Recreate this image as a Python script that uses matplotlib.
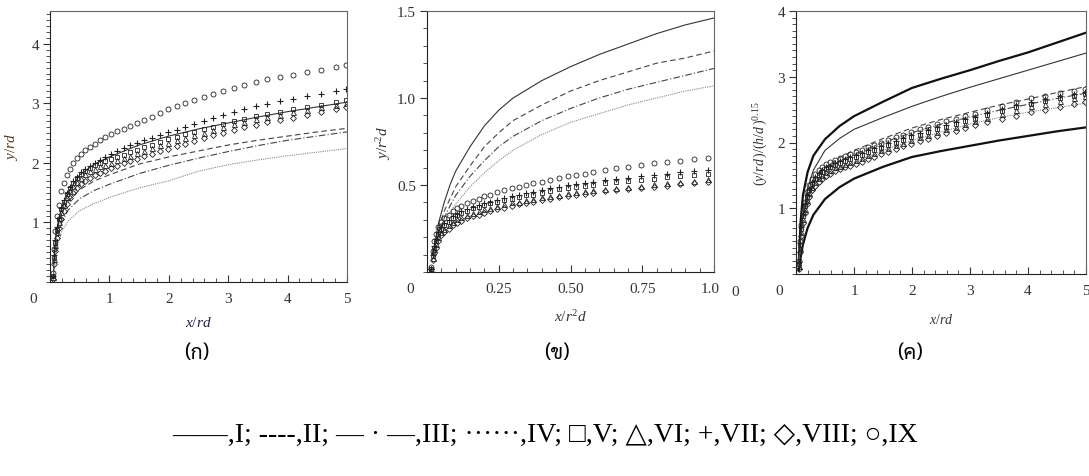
import matplotlib
matplotlib.use("Agg")
import matplotlib.pyplot as plt
from matplotlib.ticker import MultipleLocator, FixedLocator
from matplotlib.transforms import Bbox

plt.rcParams['font.family'] = ['Liberation Serif', 'DejaVu Serif']
plt.rcParams['mathtext.fontset'] = 'custom'
plt.rcParams['mathtext.rm'] = 'Liberation Serif'
plt.rcParams['mathtext.it'] = 'Liberation Serif:italic'

# ---------- panel (ก): y/rd vs x/rd ----------
A_LX = [0.06, 0.1, 0.15, 0.2, 0.3, 0.5, 0.75, 1, 1.5, 2, 2.5, 3, 3.5, 4, 4.5, 5]
A_I = [0.3, 0.8, 1.08, 1.26, 1.5, 1.8, 1.98, 2.1, 2.3, 2.45, 2.57, 2.67, 2.77, 2.86, 2.94, 3.02]
A_II = [0.2, 0.75, 1.0, 1.15, 1.35, 1.55, 1.7, 1.8, 1.98, 2.1, 2.2, 2.3, 2.38, 2.45, 2.52, 2.58]
A_III = [0.15, 0.6, 0.85, 1.0, 1.2, 1.4, 1.54, 1.64, 1.82, 1.96, 2.08, 2.19, 2.29, 2.38, 2.45, 2.52]
A_IV = [0.1, 0.45, 0.7, 0.85, 1.02, 1.2, 1.32, 1.42, 1.58, 1.7, 1.86, 1.97, 2.05, 2.12, 2.18, 2.24]

A_MX = [0.05, 0.07, 0.09, 0.12, 0.15, 0.19, 0.23, 0.28, 0.33, 0.39, 0.45, 0.52, 0.59, 0.67,
        0.75, 0.84, 0.93, 1.03, 1.13, 1.24, 1.35, 1.47, 1.59, 1.72, 1.85, 1.99, 2.13, 2.28,
        2.43, 2.59, 2.75, 2.92, 3.09, 3.27, 3.46, 3.66, 3.87, 4.09, 4.32, 4.56, 4.81, 4.98]
A_V = [0.1, 0.4, 0.65, 0.88, 1.05, 1.22, 1.35, 1.47, 1.57, 1.66, 1.74, 1.81, 1.87, 1.92,
       1.96, 2.0, 2.03, 2.06, 2.1, 2.14, 2.18, 2.22, 2.26, 2.3, 2.35, 2.4, 2.44, 2.48,
       2.52, 2.57, 2.61, 2.66, 2.7, 2.74, 2.78, 2.82, 2.86, 2.9, 2.94, 2.98, 3.02, 3.05]
A_VI = [0.08, 0.38, 0.62, 0.84, 1.0, 1.17, 1.3, 1.42, 1.52, 1.61, 1.68, 1.75, 1.81, 1.86,
        1.9, 1.94, 1.97, 2.0, 2.04, 2.08, 2.12, 2.16, 2.2, 2.25, 2.3, 2.34, 2.38, 2.42,
        2.47, 2.51, 2.56, 2.6, 2.65, 2.69, 2.73, 2.77, 2.81, 2.85, 2.89, 2.93, 2.97, 3.0]
A_VII = [0.1, 0.45, 0.7, 0.92, 1.08, 1.25, 1.38, 1.5, 1.6, 1.7, 1.77, 1.84, 1.9, 1.95,
         2.0, 2.05, 2.1, 2.15, 2.2, 2.25, 2.3, 2.34, 2.38, 2.42, 2.47, 2.52, 2.56, 2.6,
         2.65, 2.7, 2.75, 2.81, 2.86, 2.9, 2.95, 2.99, 3.04, 3.08, 3.12, 3.16, 3.2, 3.24]
A_VIII = [0.05, 0.3, 0.52, 0.74, 0.9, 1.06, 1.19, 1.31, 1.41, 1.5, 1.57, 1.64, 1.7, 1.75,
          1.79, 1.83, 1.87, 1.91, 1.95, 1.99, 2.03, 2.07, 2.11, 2.15, 2.2, 2.24, 2.28, 2.32,
          2.37, 2.41, 2.46, 2.51, 2.56, 2.6, 2.64, 2.68, 2.72, 2.76, 2.8, 2.85, 2.9, 2.94]
A_IX = [0.15, 0.55, 0.85, 1.1, 1.3, 1.52, 1.66, 1.8, 1.9, 2.0, 2.08, 2.15, 2.21, 2.27,
        2.32, 2.38, 2.43, 2.48, 2.53, 2.57, 2.62, 2.67, 2.72, 2.77, 2.83, 2.9, 2.95, 3.0,
        3.06, 3.11, 3.16, 3.21, 3.26, 3.3, 3.35, 3.4, 3.44, 3.48, 3.52, 3.56, 3.61, 3.65]

# ---------- panel (ข): y/r^2d vs x/r^2d ----------
B_LX = [0.02, 0.04, 0.06, 0.08, 0.1, 0.15, 0.2, 0.25, 0.3, 0.4, 0.5, 0.6, 0.7, 0.8, 0.9, 1.0]
B_I = [0.1, 0.28, 0.4, 0.5, 0.58, 0.72, 0.84, 0.93, 1.0, 1.1, 1.18, 1.25, 1.31, 1.37, 1.42, 1.46]
B_II = [0.1, 0.25, 0.35, 0.42, 0.49, 0.61, 0.72, 0.8, 0.87, 0.96, 1.04, 1.1, 1.15, 1.2, 1.23, 1.27]
B_III = [0.1, 0.22, 0.31, 0.38, 0.44, 0.55, 0.64, 0.72, 0.78, 0.87, 0.94, 1.0, 1.05, 1.09, 1.13, 1.17]
B_IV = [0.1, 0.2, 0.28, 0.34, 0.39, 0.49, 0.57, 0.64, 0.7, 0.79, 0.86, 0.91, 0.96, 1.0, 1.04, 1.07]

B_MX = [0.015, 0.02, 0.025, 0.03, 0.04, 0.05, 0.06, 0.075, 0.09, 0.105, 0.12, 0.14, 0.16,
        0.18, 0.2, 0.22, 0.245, 0.27, 0.295, 0.32, 0.345, 0.37, 0.4, 0.43, 0.46, 0.49, 0.52,
        0.55, 0.58, 0.62, 0.66, 0.7, 0.745, 0.79, 0.835, 0.88, 0.93, 0.98]
B_V = [0.02, 0.09, 0.14, 0.18, 0.22, 0.25, 0.27, 0.29, 0.31, 0.325, 0.34, 0.35, 0.365,
       0.375, 0.385, 0.395, 0.405, 0.415, 0.42, 0.43, 0.44, 0.445, 0.455, 0.465, 0.475, 0.48,
       0.49, 0.495, 0.5, 0.51, 0.515, 0.522, 0.53, 0.537, 0.544, 0.55, 0.557, 0.565]
B_VI = [0.02, 0.08, 0.13, 0.16, 0.2, 0.23, 0.25, 0.27, 0.29, 0.305, 0.315, 0.33, 0.34,
        0.35, 0.36, 0.37, 0.38, 0.39, 0.4, 0.405, 0.415, 0.42, 0.43, 0.437, 0.445, 0.452,
        0.46, 0.465, 0.47, 0.477, 0.483, 0.49, 0.497, 0.503, 0.51, 0.517, 0.525, 0.535]
B_VII = [0.02, 0.1, 0.15, 0.19, 0.23, 0.26, 0.28, 0.3, 0.32, 0.335, 0.35, 0.36, 0.375,
         0.385, 0.395, 0.405, 0.415, 0.425, 0.435, 0.445, 0.455, 0.46, 0.47, 0.48, 0.49, 0.5,
         0.505, 0.51, 0.52, 0.527, 0.535, 0.542, 0.55, 0.557, 0.565, 0.572, 0.58, 0.588]
B_VIII = [0.02, 0.07, 0.11, 0.14, 0.18, 0.21, 0.23, 0.25, 0.27, 0.28, 0.295, 0.31, 0.32,
          0.33, 0.34, 0.35, 0.36, 0.37, 0.38, 0.39, 0.395, 0.405, 0.413, 0.42, 0.43, 0.437,
          0.445, 0.45, 0.456, 0.463, 0.47, 0.477, 0.484, 0.49, 0.497, 0.504, 0.512, 0.52]
B_IX = [0.03, 0.12, 0.18, 0.22, 0.26, 0.29, 0.31, 0.33, 0.35, 0.365, 0.38, 0.395, 0.41,
        0.42, 0.435, 0.445, 0.46, 0.47, 0.48, 0.49, 0.5, 0.51, 0.52, 0.53, 0.54, 0.55, 0.56,
        0.565, 0.575, 0.585, 0.595, 0.605, 0.615, 0.625, 0.632, 0.64, 0.648, 0.655]

# ---------- panel (ค): (y/rd)/(h/d)^0.15 vs x/rd ----------
C_LX = [0.05, 0.08, 0.12, 0.2, 0.3, 0.5, 0.75, 1, 1.5, 2, 2.5, 3, 3.5, 4, 4.5, 5]
C_TOP = [0.2, 0.8, 1.2, 1.55, 1.8, 2.05, 2.25, 2.4, 2.62, 2.83, 2.97, 3.1, 3.24, 3.37, 3.52, 3.67]
C_I = [0.15, 0.55, 0.9, 1.3, 1.58, 1.88, 2.06, 2.2, 2.38, 2.55, 2.7, 2.84, 2.97, 3.1, 3.23, 3.36]
C_II = [0.2, 0.6, 0.9, 1.2, 1.4, 1.62, 1.77, 1.88, 2.06, 2.22, 2.35, 2.46, 2.57, 2.66, 2.76, 2.85]
C_III = [0.15, 0.55, 0.85, 1.15, 1.35, 1.56, 1.71, 1.82, 2.0, 2.15, 2.28, 2.39, 2.49, 2.58, 2.67, 2.75]
C_IV = [0.1, 0.45, 0.75, 1.05, 1.25, 1.45, 1.6, 1.7, 1.88, 2.03, 2.16, 2.28, 2.38, 2.46, 2.53, 2.6]
C_BOT = [0.05, 0.25, 0.45, 0.7, 0.9, 1.14, 1.32, 1.45, 1.63, 1.78, 1.87, 1.95, 2.03, 2.1, 2.17, 2.23]

C_MX = [0.05, 0.07, 0.09, 0.12, 0.15, 0.19, 0.23, 0.28, 0.33, 0.39, 0.45, 0.52, 0.59, 0.67,
        0.75, 0.84, 0.93, 1.03, 1.13, 1.24, 1.35, 1.47, 1.59, 1.72, 1.85, 1.99, 2.13, 2.28,
        2.43, 2.59, 2.75, 2.92, 3.09, 3.3, 3.55, 3.8, 4.05, 4.3, 4.55, 4.8, 4.98]
C_V = [0.15, 0.44, 0.68, 0.88, 1.03, 1.17, 1.27, 1.37, 1.44, 1.5, 1.55, 1.59, 1.62, 1.66,
       1.69, 1.72, 1.75, 1.78, 1.81, 1.85, 1.88, 1.92, 1.96, 2.0, 2.04, 2.08, 2.12, 2.16,
       2.2, 2.24, 2.28, 2.32, 2.36, 2.42, 2.48, 2.54, 2.59, 2.63, 2.67, 2.71, 2.74]
C_VI = [0.12, 0.4, 0.64, 0.84, 0.99, 1.13, 1.23, 1.33, 1.4, 1.46, 1.51, 1.55, 1.58, 1.62,
        1.65, 1.68, 1.71, 1.74, 1.77, 1.81, 1.84, 1.88, 1.92, 1.96, 2.0, 2.04, 2.08, 2.12,
        2.16, 2.2, 2.24, 2.28, 2.32, 2.38, 2.44, 2.5, 2.55, 2.59, 2.63, 2.67, 2.7]
C_VII = [0.18, 0.47, 0.71, 0.91, 1.06, 1.2, 1.3, 1.4, 1.47, 1.53, 1.58, 1.62, 1.65, 1.69,
         1.72, 1.75, 1.78, 1.81, 1.84, 1.88, 1.91, 1.95, 1.99, 2.03, 2.07, 2.11, 2.15, 2.19,
         2.23, 2.27, 2.31, 2.35, 2.39, 2.45, 2.51, 2.57, 2.62, 2.66, 2.7, 2.74, 2.77]
C_VIII = [0.08, 0.34, 0.58, 0.78, 0.93, 1.07, 1.17, 1.27, 1.34, 1.4, 1.45, 1.49, 1.52, 1.56,
          1.59, 1.62, 1.65, 1.68, 1.71, 1.75, 1.78, 1.82, 1.86, 1.9, 1.94, 1.98, 2.02, 2.06,
          2.1, 2.14, 2.18, 2.22, 2.26, 2.31, 2.36, 2.41, 2.46, 2.5, 2.54, 2.58, 2.62]
C_IX = [0.2, 0.5, 0.75, 0.95, 1.1, 1.25, 1.35, 1.45, 1.52, 1.58, 1.63, 1.67, 1.7, 1.74,
        1.77, 1.8, 1.83, 1.86, 1.89, 1.93, 1.96, 2.0, 2.04, 2.08, 2.12, 2.16, 2.2, 2.24,
        2.28, 2.32, 2.36, 2.4, 2.44, 2.5, 2.56, 2.62, 2.67, 2.71, 2.75, 2.79, 2.82]

CAPTIONS = ["(ก)", "(ข)", "(ค)"]
LEGEND_TEXT = "\u2014\u2014,I; ----,II; \u2014 \u00b7 \u2014,III; \u00b7\u00b7\u00b7\u00b7\u00b7\u00b7,IV; \u25a1,V; \u25b3,VI; +,VII; \u25c7,VIII; \u25cb,IX"

fig = plt.figure(figsize=(10.89, 4.77), dpi=100)
ax1 = fig.add_axes([50 / 1089, 1 - 283 / 477, 297 / 1089, 271 / 477])
ax2 = fig.add_axes([427 / 1089, 1 - 273 / 477, 287 / 1089, 261 / 477])
ax3 = fig.add_axes([796 / 1089, 1 - 275 / 477, 290 / 1089, 263 / 477])

mk = dict(linestyle='none', markerfacecolor='none', markeredgecolor='#222222',
          markeredgewidth=0.6, markersize=3.6)


def draw_markers(ax, x, v, vi, vii, viii, ix):
    ax.plot(x, v, marker='s', **{**mk, 'markersize': 3.2})
    ax.plot(x, vi, marker='^', **mk)
    ax.plot(x, vii, marker='+', **{**mk, 'markersize': 5.0, 'markeredgewidth': 0.8})
    ax.plot(x, viii, marker='D', **{**mk, 'markersize': 3.0})
    ax.plot(x, ix, marker='o', **mk)


def draw_lines(ax, x, i, ii, iii, iv):
    ax.plot(x, i, color='#333333', lw=0.8, ls='-')
    ax.plot(x, ii, color='#444444', lw=0.8, ls=(0, (5, 3)))
    ax.plot(x, iii, color='#444444', lw=0.8, ls=(0, (6, 2, 1, 2)))
    ax.plot(x, iv, color='#888888', lw=0.8, ls=(0, (1, 1)))


# panel 1
draw_lines(ax1, A_LX, A_I, A_II, A_III, A_IV)
draw_markers(ax1, A_MX, A_V, A_VI, A_VII, A_VIII, A_IX)
ax1.set_xlim(0, 5)
ax1.set_ylim(0, 4.55)
ax1.xaxis.set_major_locator(FixedLocator([1, 2, 3, 4, 5]))
ax1.xaxis.set_minor_locator(MultipleLocator(0.2))
ax1.yaxis.set_major_locator(FixedLocator([1, 2, 3, 4]))
ax1.yaxis.set_minor_locator(MultipleLocator(0.1))
ax1.set_xlabel(r'$x/rd$', fontsize=11, color='#222244')
ax1.set_ylabel(r'$y/rd$', fontsize=11, color='#5a3a1a')

# panel 2
draw_lines(ax2, B_LX, B_I, B_II, B_III, B_IV)
draw_markers(ax2, B_MX, B_V, B_VI, B_VII, B_VIII, B_IX)
ax2.set_xlim(0, 1)
ax2.set_ylim(0, 1.5)
ax2.xaxis.set_major_locator(FixedLocator([0.25, 0.5, 0.75, 1.0]))
ax2.xaxis.set_minor_locator(MultipleLocator(0.05))
ax2.yaxis.set_major_locator(FixedLocator([0.5, 1.0, 1.5]))
ax2.yaxis.set_minor_locator(MultipleLocator(0.1))
ax2.xaxis.set_major_formatter(plt.FuncFormatter(lambda v, p: f"{v:.2f}"))
ax2.yaxis.set_major_formatter(plt.FuncFormatter(lambda v, p: f"{v:.1f}"))
ax2.set_xlabel(r'$x/r^2d$', fontsize=11, color='#333333')
ax2.set_ylabel(r'$y/r^2d$', fontsize=11, color='#333333')

# panel 3
ax3.plot(C_LX, C_TOP, color='#111111', lw=1.6)
ax3.plot(C_LX, C_BOT, color='#111111', lw=1.6)
draw_lines(ax3, C_LX, C_I, C_II, C_III, C_IV)
draw_markers(ax3, C_MX, C_V, C_VI, C_VII, C_VIII, C_IX)
ax3.set_xlim(0, 5)
ax3.set_ylim(0, 4)
ax3.xaxis.set_major_locator(FixedLocator([1, 2, 3, 4, 5]))
ax3.xaxis.set_minor_locator(MultipleLocator(0.2))
ax3.yaxis.set_major_locator(FixedLocator([1, 2, 3, 4]))
ax3.yaxis.set_minor_locator(MultipleLocator(0.1))
ax3.set_xlabel(r'$x/rd$', fontsize=10, color='#333333')
ax3.set_ylabel(r'$(y/rd\,)/(h/d\,)^{0.15}$', fontsize=10, color='#333333')

for ax, ylx in ((ax1, -0.10), (ax2, -0.12), (ax3, -0.09)):
    for s in ax.spines.values():
        s.set_color('#666666')
        s.set_linewidth(0.8)
    ax.spines['left'].set_color('#222222')
    ax.spines['bottom'].set_color('#222222')
    ax.tick_params(axis='y', which='both', direction='out', right=False, colors='#333333',
                   labelsize=11, pad=3)
    ax.tick_params(axis='y', which='major', length=5)
    ax.tick_params(axis='y', which='minor', length=3)
    ax.tick_params(axis='x', which='both', direction='in', top=False, colors='#333333',
                   labelsize=11, pad=7)
    ax.tick_params(axis='x', which='major', length=5)
    ax.tick_params(axis='x', which='minor', length=3)
    ax.annotate('0', xy=(0, 0), xycoords='axes fraction', xytext=(-12, -7),
                textcoords='offset points', ha='center', va='top', fontsize=11,
                color='#333333')
    ax.yaxis.set_label_coords(ylx, 0.5)

ax1.xaxis.set_label_coords(0.5, -0.12)
ax2.xaxis.set_label_coords(0.5, -0.14)
ax3.xaxis.set_label_coords(0.5, -0.145)

# stray "0" at the far left of the third panel
fig.text(735 / 1089, 1 - 293 / 477, '0', ha='center', va='center', fontsize=11, color='#333333')

thai = ['Sarabun', 'Noto Sans Thai', 'Trirong', 'DejaVu Sans']
for cx, cap in zip([197, 557, 910], CAPTIONS):
    fig.text(cx / 1089, 1 - 353 / 477, cap, ha='center', va='center', fontsize=15,
             family=thai)

fig.text(545 / 1089, 1 - 435 / 477, LEGEND_TEXT, ha='center', va='center', fontsize=20,
         family=['Liberation Serif', 'DejaVu Serif', 'DejaVu Sans'])

# the last tick label of the middle panel is cut at the panel edge, as in the source
fig.canvas.draw()
last = ax2.xaxis.get_major_ticks()[-1].label1
last.set_clip_box(Bbox.from_extents(0, 0, 719, 477))
last.set_clip_on(True)

fig.savefig('out.png', dpi=100)
